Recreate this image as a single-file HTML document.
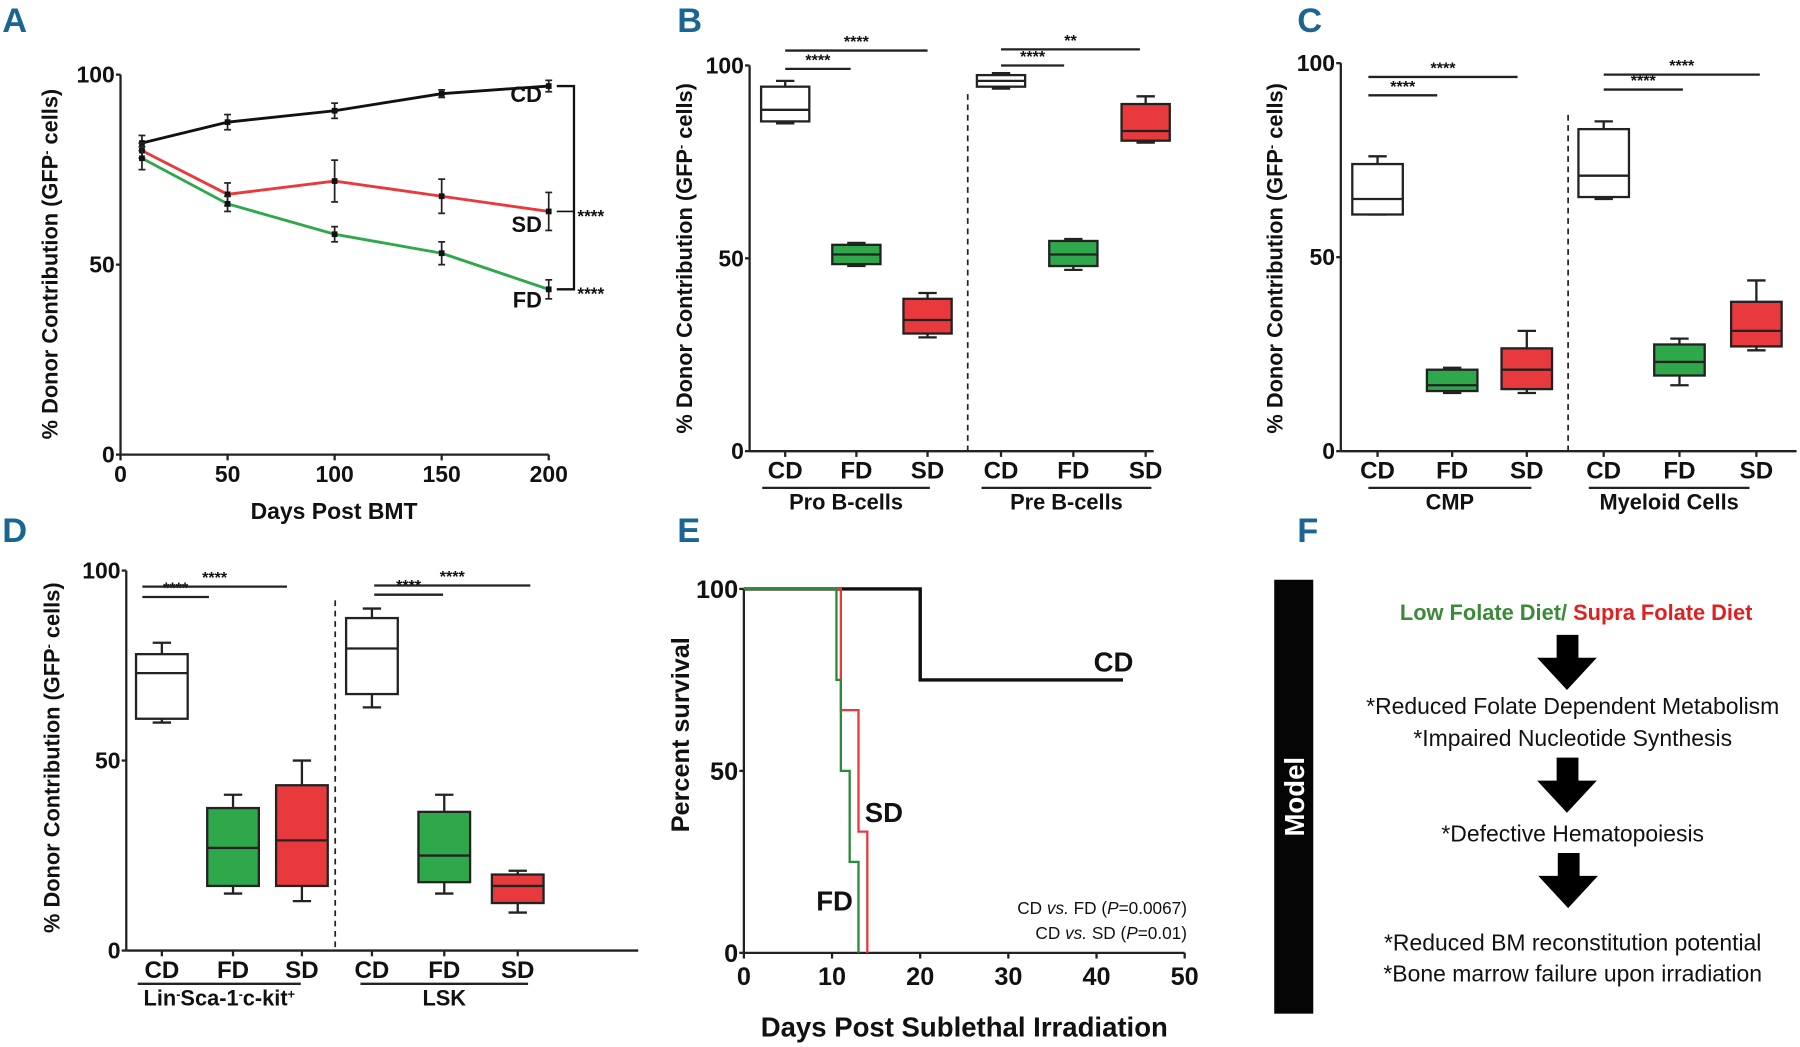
<!DOCTYPE html>
<html><head><meta charset="utf-8">
<style>
html,body{margin:0;padding:0;background:#fff;}
svg{display:block;}
.t{font-family:"Liberation Sans Narrow","Liberation Sans",sans-serif;font-weight:bold;fill:#111;}
.lbl{font-family:"Liberation Sans Narrow","Liberation Sans",sans-serif;font-weight:bold;fill:#1b6592;font-size:30px;}
.f{font-family:"Liberation Sans","DejaVu Sans",sans-serif;fill:#111;font-size:20px;}
</style></head>
<body>
<svg id="fig" width="1800" height="1047" viewBox="0 0 1568 912" xmlns="http://www.w3.org/2000/svg">
<g id="letters">
<text class="lbl" x="2" y="28">A</text>
<text class="lbl" x="590" y="28">B</text>
<text class="lbl" x="1130" y="28">C</text>
<text class="lbl" x="2" y="472">D</text>
<text class="lbl" x="590" y="472">E</text>
<text class="lbl" x="1130" y="472">F</text>
</g>
<g id="panelF">
<rect x="1110" y="505" width="34" height="378" fill="#050505"/>
<text x="1136" y="694" transform="rotate(-90 1136 694)" text-anchor="middle" style="font-family:'Liberation Sans',sans-serif;font-weight:bold;font-size:24px;fill:#fff">Model</text>
<text class="f" x="1373" y="540" text-anchor="middle" style="font-weight:bold;font-size:19px"><tspan fill="#3a8a3a">Low Folate Diet/ </tspan><tspan fill="#e02020">Supra Folate Diet</tspan></text>
<text class="f" x="1370" y="622" text-anchor="middle">*Reduced Folate Dependent Metabolism</text>
<text class="f" x="1370" y="650" text-anchor="middle">*Impaired Nucleotide Synthesis</text>
<text class="f" x="1370" y="733" text-anchor="middle">*Defective Hematopoiesis</text>
<text class="f" x="1370" y="828" text-anchor="middle">*Reduced  BM reconstitution potential</text>
<text class="f" x="1370" y="855" text-anchor="middle">*Bone marrow failure upon irradiation</text>
<polygon points="1356,553 1375,553 1375,573 1391,573 1365,601 1339,573 1356,573" fill="#000"/>
<polygon points="1356,660 1375,660 1375,680 1391,680 1365,708 1339,680 1356,680" fill="#000"/>
<polygon points="1357,743 1376,743 1376,763 1392,763 1366,791 1340,763 1357,763" fill="#000"/>
</g>
</svg>
<script>
const NS='http://www.w3.org/2000/svg';
const svg=document.getElementById('fig');
function el(tag,attrs,parent,text){const e=document.createElementNS(NS,tag);for(const k in attrs)e.setAttribute(k,attrs[k]);if(text!==undefined)e.textContent=text;(parent||svg).appendChild(e);return e;}
const GREEN='#2ea84a',RED='#e8393d';

// ---- Panel A data ----
const aDays=[10,50,100,150,200];
const aCD=[82,87.5,90.5,95,97];
const aSD=[80,68.5,72,68,64];
const aFD=[78,66,58,53,43.5];
const aCDerr=[2,2,2,1,1.5];
const aSDerr=[2,3,5.5,4.5,5];
const aFDerr=[3,2,2,3,2.5];
const aXTicks=[0,50,100,150,200];
const yTicks=[0,50,100];

// ---- Panel B data (min,q1,median,q3,max) ----
const bCats=['CD','FD','SD','CD','FD','SD'];
const bStats=[[85,85.5,88.5,94.5,96],[48,48.5,51,53.5,54],[29.5,30.5,34,39.5,41],[94,94.5,96,97.5,98],[47,48,51,54.5,55],[80,80.5,83,90,92]];
const bGroups=['Pro B-cells','Pre B-cells'];
const bSig=['****','****','****','**'];

// ---- Panel C data ----
const cCats=['CD','FD','SD','CD','FD','SD'];
const cStats=[[61,61,65,74,76],[15,15.5,17,21,21.5],[15,16,21,26.5,31],[65,65.5,71,83,85],[17,19.5,23,27.5,29],[26,27,31,38.5,44]];
const cGroups=['CMP','Myeloid Cells'];

// ---- Panel D data ----
const dCats=['CD','FD','SD','CD','FD','SD'];
const dStats=[[60,61,73,78,81],[15,17,27,37.5,41],[13,17,29,43.5,50],[64,67.5,79.5,87.5,90],[15,18,25,36.5,41],[10,12.5,17,20,21]];

// ---- Panel E data (survival steps) ----
const eXTicks=[0,10,20,30,40,50];
const eCDt=[0,20,20,43];
const eCDs=[100,100,75,75];
const eFDt=[0,10.5,10.5,11,11,12,12,13,13];
const eFDs=[100,100,75,75,50,50,25,25,0];
const eSDt=[0,11,11,13,13,14,14];
const eSDs=[100,100,66.7,66.7,33.3,33.3,0];

function lin(d0,d1,r0,r1){return v=>r0+(v-d0)*(r1-r0)/(d1-d0);}

function yTitle(x,y,txt,size){
  const t=el('text',{class:'t',x:x,y:y,transform:`rotate(-90 ${x} ${y})`,'text-anchor':'middle','font-size':size||19,style:'font-family:"Liberation Sans",sans-serif'});
  
  
  if(txt==='gfp'){
    el('tspan',{},t,'% Donor Contribution (GFP');
    el('tspan',{'baseline-shift':'super','font-size':11},t,'-');
    el('tspan',{},t,' cells)');
  } else t.textContent=txt;
  return t;
}
function yAxis(g,x,y,top,bottom){
  const l=el('line',{x1:x,y1:y(top),x2:x,y2:y(bottom),stroke:'#222','stroke-width':2},g);
  
  
  yTicks.forEach(v=>{
    el('line',{x1:x-4,y1:y(v),x2:x,y2:y(v),stroke:'#222','stroke-width':2},g);
    const t=el('text',{class:'t',x:x-5,y:y(v)+7,'text-anchor':'end','font-size':20,style:'font-family:"Liberation Sans Narrow","Liberation Sans",sans-serif'},g,String(v));
    
    
  });
}

// ===== Panel A =====
(function(){
  const g=el('g',{});
  
  
  const x=lin(0,200,105,478), y=lin(0,100,396,65);
  yAxis(g,105,y,100,0);
  const xl=el('line',{x1:105,y1:396,x2:478,y2:396,stroke:'#222','stroke-width':2},g);
  
  
  aXTicks.forEach(v=>{
    el('line',{x1:x(v),y1:396,x2:x(v),y2:401,stroke:'#222','stroke-width':2},g);
    const t=el('text',{class:'t',x:x(v),y:420,'text-anchor':'middle','font-size':20},g,String(v));
    
    
  });
  const xt=el('text',{class:'t',x:291,y:452,'text-anchor':'middle','font-size':20},g,'Days Post BMT');
  
  
  yTitle(50,230,'gfp',19);
  [[aCD,aCDerr,'#111','cd'],[aSD,aSDerr,'#e8393d','sd'],[aFD,aFDerr,GREEN,'fd']].forEach(([vals,err,col,nm])=>{
    const pts=aDays.map((d,i)=>x(d)+','+y(vals[i])).join(' ');
    const pl=el('polyline',{points:pts,fill:'none',stroke:col,'stroke-width':2.5},g);
    
    
    aDays.forEach((d,i)=>{
      const cx=x(d);
      el('line',{x1:cx,y1:y(vals[i]+err[i]),x2:cx,y2:y(vals[i]-err[i]),stroke:'#222','stroke-width':1.5},g);
      el('line',{x1:cx-3,y1:y(vals[i]+err[i]),x2:cx+3,y2:y(vals[i]+err[i]),stroke:'#222','stroke-width':1.5},g);
      el('line',{x1:cx-3,y1:y(vals[i]-err[i]),x2:cx+3,y2:y(vals[i]-err[i]),stroke:'#222','stroke-width':1.5},g);
      const m=el('rect',{x:cx-2.5,y:y(vals[i])-2.5,width:5,height:5,fill:'#111'},g);
      
      
    });
  });
  [['CD',aCD,14],['SD',aSD,18],['FD',aFD,16]].forEach(([s,vals,off])=>{
    const t=el('text',{class:'t',x:472,y:y(vals[4])+off,'text-anchor':'end','font-size':19},g,s);
    
    
  });
  const yc=y(aCD[4]),ys=y(aSD[4]),yf=y(aFD[4]);
  el('polyline',{points:`485,${yc} 500,${yc} 500,${yf} 485,${yf}`,fill:'none',stroke:'#111','stroke-width':2},g);
  el('line',{x1:485,y1:ys,x2:500,y2:ys,stroke:'#111','stroke-width':1.5},g);
  [[ys,'sig-sd'],[yf,'sig-fd']].forEach(([yy,nm])=>{
    const t=el('text',{class:'t',x:503,y:yy+9,'font-size':15},g,'****');
    
    
  });
})();

// ===== Box plot panels =====
function boxPanel(opt){
  const g=el('g',{});
  
  
  const y=lin(0,100,opt.y0,opt.y100);
  yAxis(g,opt.ax,y,100,0);
  const xl=el('line',{x1:opt.ax,y1:opt.y0,x2:opt.axEnd,y2:opt.y0,stroke:'#222','stroke-width':2},g);
  
  
  const dl=el('line',{x1:opt.dash,y1:opt.dashTop,x2:opt.dash,y2:opt.y0,stroke:'#222','stroke-width':1.5,'stroke-dasharray':'5,4'},g);
  
  
  const fills=['#fff',GREEN,RED,'#fff',GREEN,RED];
  opt.cats.forEach((c,i)=>{
    const cx=opt.xs[i], s=opt.stats[i], w=opt.bw;
    el('line',{x1:cx,y1:opt.y0,x2:cx,y2:opt.y0+5,stroke:'#222','stroke-width':2},g);
    const t=el('text',{class:'t',x:cx,y:opt.y0+24,'text-anchor':'middle','font-size':21},g,c);
    
    
    el('line',{x1:cx,y1:y(s[0]),x2:cx,y2:y(s[4]),stroke:'#222','stroke-width':2},g);
    el('line',{x1:cx-8,y1:y(s[0]),x2:cx+8,y2:y(s[0]),stroke:'#222','stroke-width':2},g);
    el('line',{x1:cx-8,y1:y(s[4]),x2:cx+8,y2:y(s[4]),stroke:'#222','stroke-width':2},g);
    const b=el('rect',{x:cx-w/2,y:y(s[3]),width:w,height:y(s[1])-y(s[3]),fill:fills[i],stroke:'#222','stroke-width':2},g);
    
    
    el('line',{x1:cx-w/2,y1:y(s[2]),x2:cx+w/2,y2:y(s[2]),stroke:'#222','stroke-width':2},g);
  });
  opt.sig.forEach(([a,b,yy,txt])=>{
    const l=el('line',{x1:a,y1:yy,x2:b,y2:yy,stroke:'#222','stroke-width':2},g);
    
    
    const t=el('text',{class:'t',x:(a+b)/2,y:yy-3,'text-anchor':'middle','font-size':14},g,txt);
    
    
  });
  opt.groups.forEach(([a,b,label])=>{
    el('line',{x1:a,y1:opt.gy,x2:b,y2:opt.gy,stroke:'#222','stroke-width':2},g);
    const t=el('text',{class:'t',x:(a+b)/2,y:opt.gy+19,'text-anchor':'middle','font-size':19},g);
    
    
    if(label==='LSC'){
      el('tspan',{},t,'Lin');el('tspan',{'baseline-shift':'super','font-size':11},t,'-');
      el('tspan',{},t,'Sca-1');el('tspan',{'baseline-shift':'super','font-size':11},t,'-');
      el('tspan',{},t,'c-kit');el('tspan',{'baseline-shift':'super','font-size':11},t,'+');
    } else t.textContent=label;
  });
  yTitle(opt.tx,opt.ty,'gfp',19);
}
boxPanel({name:'panel-b-box-plot',ax:653,axEnd:1005,y0:393,y100:57,dash:843,dashTop:82,bw:42,
  cats:bCats,stats:bStats,xs:[684,746,808,872,935,998],
  sig:[[684,741,60,bSig[0]],[684,808,44,bSig[1]],[872,927,57,bSig[2]],[872,993,43,bSig[3]]],
  groups:[[664,810,bGroups[0]],[855,1003,bGroups[1]]],gy:425,tx:603,ty:225});
boxPanel({name:'panel-c-box-plot',ax:1168,axEnd:1565,y0:393,y100:55,dash:1366,dashTop:100,bw:44,
  cats:cCats,stats:cStats,xs:[1200,1265,1330,1397,1463,1530],
  sig:[[1192,1252,83,'****'],[1192,1322,67,'****'],[1397,1466,78,'****'],[1397,1533,65,'****']],
  groups:[[1192,1334,cGroups[0]],[1384,1524,cGroups[1]]],gy:425,tx:1117,ty:225});
boxPanel({name:'panel-d-box-plot',ax:110,axEnd:556,y0:828,y100:497,dash:292,dashTop:523,bw:45,
  cats:dCats,stats:dStats,xs:[141,203,263,324,387,451],
  sig:[[124,182,520,'****'],[124,250,511,'****'],[326,386,518,'****'],[326,462,510,'****']],
  groups:[[120,262,'LSC'],[314,460,'LSK']],gy:857,tx:52,ty:660});

// ===== Panel E =====
(function(){
  const g=el('g',{});
  
  
  const x=lin(0,50,648,1032), y=lin(0,100,830,513);
  el('line',{x1:648,y1:y(100),x2:648,y2:830,stroke:'#222','stroke-width':2},g);
  yTicks.forEach(v=>{
    el('line',{x1:644,y1:y(v),x2:648,y2:y(v),stroke:'#222','stroke-width':2},g);
    const t=el('text',{class:'t',x:643,y:y(v)+8,'text-anchor':'end','font-size':22},g,String(v));
    
    
  });
  const xl=el('line',{x1:648,y1:830,x2:1032,y2:830,stroke:'#222','stroke-width':2},g);
  
  
  eXTicks.forEach(v=>{
    el('line',{x1:x(v),y1:830,x2:x(v),y2:835,stroke:'#222','stroke-width':2},g);
    const t=el('text',{class:'t',x:x(v),y:858,'text-anchor':'middle','font-size':22},g,String(v));
    
    
  });
  [[eCDt,eCDs,'#111',3,'cd'],[eSDt,eSDs,'#e8393d',2,'sd'],[eFDt,eFDs,'#2a8a3a',2,'fd']].forEach(([t,s,c,w,nm])=>{
    const p=el('polyline',{points:t.map((v,i)=>x(v)+','+y(s[i])).join(' '),fill:'none',stroke:c,'stroke-width':w},g);
    
    
  });
  [['CD',970,585],['SD',770,716],['FD',727,793]].forEach(([s,xx,yy])=>{
    const t=el('text',{class:'t',x:xx,y:yy,'text-anchor':'middle','font-size':24},g,s);
    
    
  });
  [['FD','0.0067',796],['SD','0.01',818]].forEach(([s,p,yy])=>{
    const t=el('text',{x:1034,y:yy,'text-anchor':'end','font-size':15,style:'font-family:"Liberation Sans Narrow","Liberation Sans",sans-serif;fill:#111'},g);
    
    
    el('tspan',{},t,'CD ');el('tspan',{'font-style':'italic'},t,'vs.');
    el('tspan',{},t,' '+s+' (');el('tspan',{'font-style':'italic'},t,'P');el('tspan',{},t,'='+p+')');
  });
  const xt=el('text',{class:'t',x:840,y:903,'text-anchor':'middle','font-size':24},g,'Days Post Sublethal Irradiation');
  
  
  yTitle(600,640,'Percent survival',22);
})();
</script>
</body></html>
